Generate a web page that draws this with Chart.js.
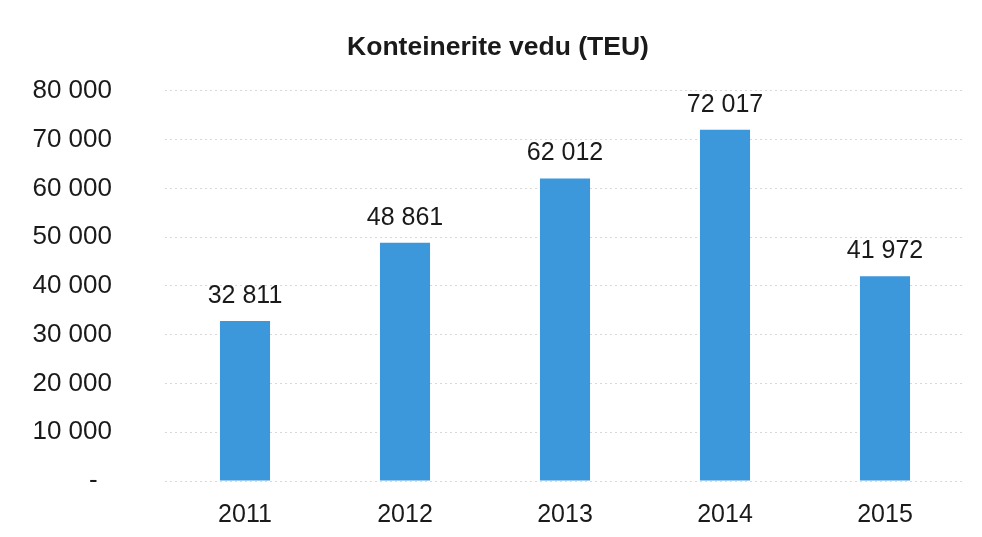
<!DOCTYPE html>
<html>
<head>
<meta charset="utf-8">
<script src="https://cdn.jsdelivr.net/npm/chart.js@4/dist/chart.umd.min.js"></script>
<style>
  html, body { margin: 0; padding: 0; background: #fff; overflow: hidden; }
  #wrap { position: relative; width: 982px; height: 537px; }
</style>
</head>
<body>
<div id="wrap"><canvas id="teuChart"></canvas></div>
<script>
/* ── data ─────────────────────────────── */
const years = ['2011', '2012', '2013', '2014', '2015'];
const teu = [32811, 48861, 62012, 72017, 41972];
const yTicks = [0, 10000, 20000, 30000, 40000, 50000, 60000, 70000, 80000];

function fmt(n) { return String(Math.round(n)).replace(/\B(?=(\d{3})+(?!\d))/g, ' '); }

const FONT = "'Liberation Sans', Arial, sans-serif";

// value labels above each bar
const barLabels = {
  id: 'barLabels',
  afterDatasetsDraw(chart) {
    const ctx = chart.ctx;
    const meta = chart.getDatasetMeta(0);
    ctx.save();
    ctx.font = '25px ' + FONT;
    ctx.fillStyle = '#1a1a1a';
    ctx.textAlign = 'center';
    ctx.textBaseline = 'middle';
    meta.data.forEach((bar, i) => {
      ctx.fillText(fmt(teu[i]), bar.x, bar.y - 25);
    });
    ctx.restore();
  }
};

new Chart(document.getElementById('teuChart'), {
  type: 'bar',
  data: {
    labels: years,
    datasets: [{
      data: teu,
      backgroundColor: '#3d97db',
      barPercentage: 0.313,
      categoryPercentage: 1
    }]
  },
  options: {
    responsive: true,
    maintainAspectRatio: false,
    animation: false,
    layout: { padding: { left: 31, right: 17, top: 0, bottom: 0 } },
    plugins: {
      legend: { display: false },
      tooltip: { enabled: false },
      title: {
        display: true,
        text: 'Konteinerite vedu (TEU)',
        color: '#1a1a1a',
        font: { size: 26.5, weight: 'bold', family: FONT },
        padding: { top: 32, bottom: 27 }
      }
    },
    scales: {
      x: {
        grid: { display: false },
        border: { display: false },
        ticks: { color: '#1a1a1a', padding: 11, font: { size: 25, family: FONT } },
        afterFit: s => { s.height = 56; }
      },
      y: {
        min: 0,
        max: 80000,
        afterBuildTicks: s => { s.ticks = yTicks.map(v => ({ value: v })); },
        // keep the chart area fixed; large tick padding would otherwise shrink it
        afterFit: s => { s.width = 134; s.paddingTop = 0; s.paddingBottom = 0; },
        border: { display: false, dash: [2, 3] },
        grid: {
          color: '#d8d8d8',
          lineWidth: 1,
          drawTicks: false
        },
        ticks: {
          color: '#1a1a1a',
          padding: 53,
          font: { size: 26, family: FONT },
          callback: v => v === 0 ? '-  ' : fmt(v)
        }
      }
    }
  },
  plugins: [barLabels]
});
</script>
</body>
</html>
